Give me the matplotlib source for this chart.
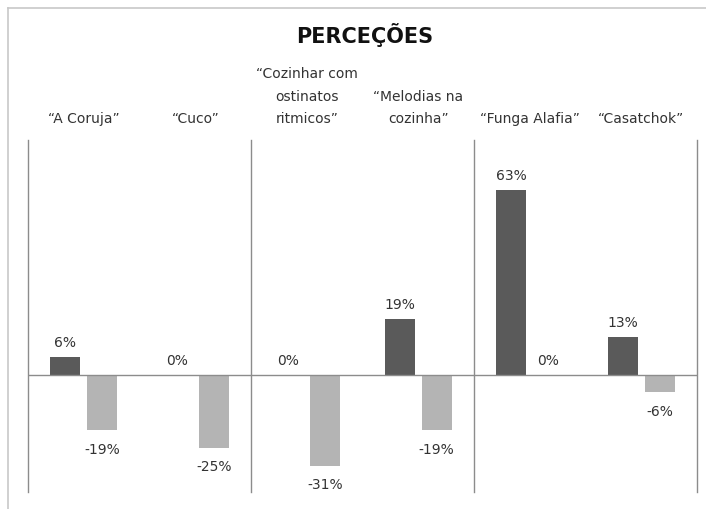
import matplotlib.pyplot as plt
from matplotlib.lines import Line2D

# data
categories = ['“A Coruja”', '“Cuco”', '“Cozinhar com\nostinatos\nritmicos”',
              '“Melodias na\ncozinha”', '“Funga Alafia”', '“Casatchok”']
positive = [6, 0, 0, 19, 63, 13]
negative = [-19, -25, -31, -19, 0, -6]
labels_pos = ['6%', '0%', '0%', '19%', '63%', '13%']
labels_neg = ['-19%', '-25%', '-31%', '-19%', '0%', '-6%']

dark = '#5a5a5a'
light = '#b4b4b4'
line_col = '#8c8c8c'
txt_col = '#333333'

fig = plt.figure(figsize=(7.06, 5.09), dpi=100)
ax = fig.add_axes([0.0397, 0.0334, 0.9476, 0.6916])

xs = list(range(len(categories)))
w = 0.27
off = 0.165
ax.bar([x - off for x in xs], positive, width=w, color=dark, zorder=2)
ax.bar([x + off for x in xs], negative, width=w, color=light, zorder=2)

ax.set_xlim(-0.5, 5.5)
ax.set_ylim(-40, 80)
ax.axhline(0, color=line_col, lw=1, zorder=3)
for b in [-0.5, 1.5, 3.5, 5.5]:
    ax.axvline(b, color=line_col, lw=1, zorder=1, clip_on=False)

for sp in ax.spines.values():
    sp.set_visible(False)
ax.set_xticks([])
ax.set_yticks([])

# data labels
for i in xs:
    ax.annotate(labels_pos[i], (i - off, positive[i]), textcoords='offset points',
                xytext=(0, 5), ha='center', va='bottom', fontsize=10, color=txt_col)
    if negative[i] < 0:
        ax.annotate(labels_neg[i], (i + off, negative[i]), textcoords='offset points',
                    xytext=(0, -9), ha='center', va='top', fontsize=10, color=txt_col)
    else:
        ax.annotate(labels_neg[i], (i + off, negative[i]), textcoords='offset points',
                    xytext=(0, 5), ha='center', va='bottom', fontsize=10, color=txt_col)

# category labels above the plot
for i, c in enumerate(categories):
    ax.text(i, 1.04, c, transform=ax.get_xaxis_transform(), ha='center', va='bottom',
            fontsize=10, color=txt_col, linespacing=1.75)

fig.text(0.516, 0.932, 'PERCEÇÕES', ha='center', va='center', fontsize=15,
         fontweight='bold', color='#111111')

# outer frame (left and top edges visible)
fig.add_artist(Line2D([0.012, 0.012], [0, 0.985], transform=fig.transFigure,
                      color='#c8c8c8', lw=1.2))
fig.add_artist(Line2D([0.012, 1], [0.985, 0.985], transform=fig.transFigure,
                      color='#c8c8c8', lw=1.2))

fig.savefig('out.png', dpi=100)
